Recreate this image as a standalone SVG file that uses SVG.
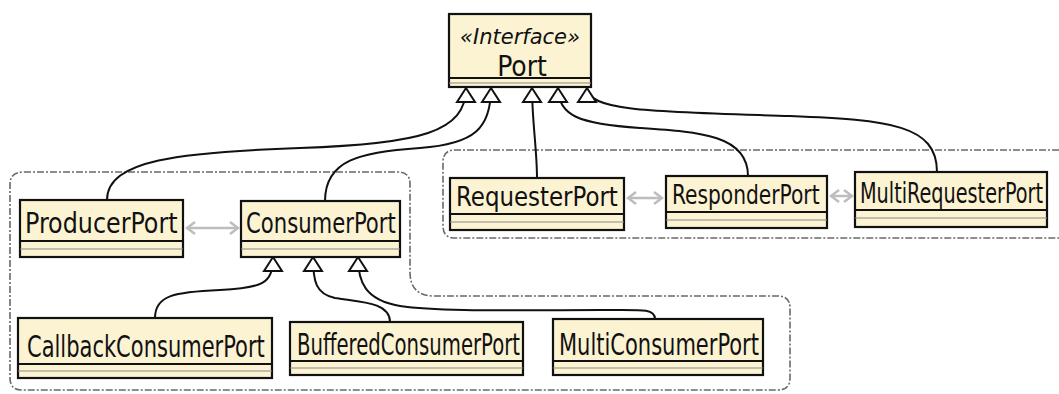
<svg xmlns="http://www.w3.org/2000/svg" width="1059" height="394" viewBox="0 0 1059 394">
<style>
.box{fill:#fcf3d2;stroke:#111;stroke-width:2.2}
.sep{stroke:#111;stroke-width:2;fill:none}
.sep2{stroke:#888;stroke-width:1.2;fill:none}
.lbl{font-family:"DejaVu Sans Condensed","Liberation Sans Narrow","Liberation Sans",sans-serif;fill:#111}
.grp{fill:none;stroke:#444;stroke-width:1.6;stroke-dasharray:7 2 2 2;opacity:0.8}
.inh{fill:none;stroke:#111;stroke-width:2}
.bi{fill:none;stroke:#bdbdbd;stroke-width:2.5}
</style>
<defs>
<marker id="tri" markerUnits="userSpaceOnUse" viewBox="0 0 18 22" refX="16" refY="11" markerWidth="18" markerHeight="22" orient="auto">
<path d="M2,2 L16,11 L2,20 Z" fill="#fff" stroke="#111" stroke-width="2"/>
</marker>
<marker id="chev" markerUnits="userSpaceOnUse" viewBox="0 0 12 14" refX="10" refY="7" markerWidth="12" markerHeight="14" orient="auto-start-reverse">
<path d="M2,1 L10,7 L2,13" fill="none" stroke="#bdbdbd" stroke-width="2.5"/>
</marker>
</defs>

<g id="groups">
<path class="grp" d="M24,172 H398 Q410,172 410,184 V272 Q410,296 434,296 H778 Q790,296 790,308 V378 Q790,390 778,390 H22 Q10,390 10,378 V184 Q10,172 24,172 Z"/>
<path class="grp" d="M1059,150 H455 Q443,150 443,162 V226 Q443,238 455,238 H1059"/>
</g>

<g id="connectors">
<path class="inh" marker-end="url(#tri)" d="M107,200 C107,160 180,152 300,148 C420,144 466,132 466,88"/>
<path class="inh" marker-end="url(#tri)" d="M325,201 C325,160 360,152 420,148 C475,144 491,128 491,88"/>
<path class="inh" marker-end="url(#tri)" d="M537,178 C537,150 532,120 532,88"/>
<path class="inh" marker-end="url(#tri)" d="M748,176 C748,135 700,132 640,128 C580,124 558,116 558,88"/>
<path class="inh" marker-end="url(#tri)" d="M937,172 C937,125 890,120 790,116 C660,112 587,112 587,88"/>
<path class="inh" marker-end="url(#tri)" d="M155,318 C155,295 175,292 220,290 C262,288 273,284 273,257"/>
<path class="inh" marker-end="url(#tri)" d="M390,322 C390,302 360,302 335,298 C316,294 313,282 313,257"/>
<path class="inh" marker-end="url(#tri)" d="M655,319 C655,308 640,310 600,310 C520,310 440,312 400,306 C365,300 358,282 358,257"/>
<path class="bi" marker-start="url(#chev)" marker-end="url(#chev)" d="M187,228 H238"/>
<path class="bi" marker-start="url(#chev)" marker-end="url(#chev)" d="M628,198 H662"/>
<path class="bi" marker-start="url(#chev)" marker-end="url(#chev)" d="M831,196 H852"/>
</g>

<g id="Port">
<rect class="box" x="449" y="14" width="142" height="73"/>
<line class="sep" x1="449" y1="78" x2="591" y2="78"/>
<line class="sep2" x1="449" y1="83" x2="591" y2="83"/>
<text class="lbl" x="520" y="44" text-anchor="middle" style="font-size:22px;font-style:italic" textLength="120" lengthAdjust="spacingAndGlyphs">«Interface»</text>
<text class="lbl" transform="translate(522,76) scale(0.92,1)" x="0" y="0" text-anchor="middle" style="font-size:28px" textLength="54" lengthAdjust="spacingAndGlyphs">Port</text>
</g>

<g id="ProducerPort">
<rect class="box" x="20" y="200" width="163" height="57"/>
<line class="sep" x1="20" y1="241" x2="183" y2="241"/>
<line class="sep2" x1="20" y1="249" x2="183" y2="249"/>
<text class="lbl" transform="translate(25,233) scale(0.936,1)" x="0" y="0" style="font-size:28px" textLength="163" lengthAdjust="spacingAndGlyphs">ProducerPort</text>
</g>

<g id="ConsumerPort">
<rect class="box" x="241" y="201" width="159" height="56"/>
<line class="sep" x1="241" y1="241" x2="400" y2="241"/>
<line class="sep2" x1="241" y1="249" x2="400" y2="249"/>
<text class="lbl" transform="translate(246,233) scale(0.837,1)" x="0" y="0" style="font-size:28px" textLength="179" lengthAdjust="spacingAndGlyphs">ConsumerPort</text>
</g>

<g id="RequesterPort">
<rect class="box" x="450" y="178" width="174" height="52"/>
<line class="sep" x1="450" y1="214" x2="624" y2="214"/>
<line class="sep2" x1="450" y1="222" x2="624" y2="222"/>
<text class="lbl" transform="translate(456,206) scale(0.93,1)" x="0" y="0" style="font-size:27px" textLength="174" lengthAdjust="spacingAndGlyphs">RequesterPort</text>
</g>

<g id="ResponderPort">
<rect class="box" x="666" y="176" width="161" height="52"/>
<line class="sep" x1="666" y1="212" x2="827" y2="212"/>
<line class="sep2" x1="666" y1="220" x2="827" y2="220"/>
<text class="lbl" transform="translate(672,204) scale(0.82,1)" x="0" y="0" style="font-size:27px" textLength="180" lengthAdjust="spacingAndGlyphs">ResponderPort</text>
</g>

<g id="MultiRequesterPort">
<rect class="box" x="855" y="172" width="192" height="55"/>
<line class="sep" x1="855" y1="210" x2="1047" y2="210"/>
<line class="sep2" x1="855" y1="218" x2="1047" y2="218"/>
<text class="lbl" transform="translate(860,203) scale(0.756,1)" x="0" y="0" style="font-size:28px" textLength="242" lengthAdjust="spacingAndGlyphs">MultiRequesterPort</text>
</g>

<g id="CallbackConsumerPort">
<rect class="box" x="18" y="318" width="254" height="60"/>
<line class="sep" x1="18" y1="364" x2="272" y2="364"/>
<line class="sep2" x1="18" y1="371" x2="272" y2="371"/>
<text class="lbl" transform="translate(27,357) scale(0.75,1)" x="0" y="0" style="font-size:31px" textLength="317" lengthAdjust="spacingAndGlyphs">CallbackConsumerPort</text>
</g>

<g id="BufferedConsumerPort">
<rect class="box" x="290" y="322" width="233" height="53"/>
<line class="sep" x1="290" y1="361" x2="523" y2="361"/>
<line class="sep2" x1="290" y1="368" x2="523" y2="368"/>
<text class="lbl" transform="translate(297,355) scale(0.724,1)" x="0" y="0" style="font-size:30px" textLength="308" lengthAdjust="spacingAndGlyphs">BufferedConsumerPort</text>
</g>

<g id="MultiConsumerPort">
<rect class="box" x="553" y="319" width="210" height="56"/>
<line class="sep" x1="553" y1="361" x2="763" y2="361"/>
<line class="sep2" x1="553" y1="368" x2="763" y2="368"/>
<text class="lbl" transform="translate(559,355) scale(0.775,1)" x="0" y="0" style="font-size:30px" textLength="258" lengthAdjust="spacingAndGlyphs">MultiConsumerPort</text>
</g>
</svg>
